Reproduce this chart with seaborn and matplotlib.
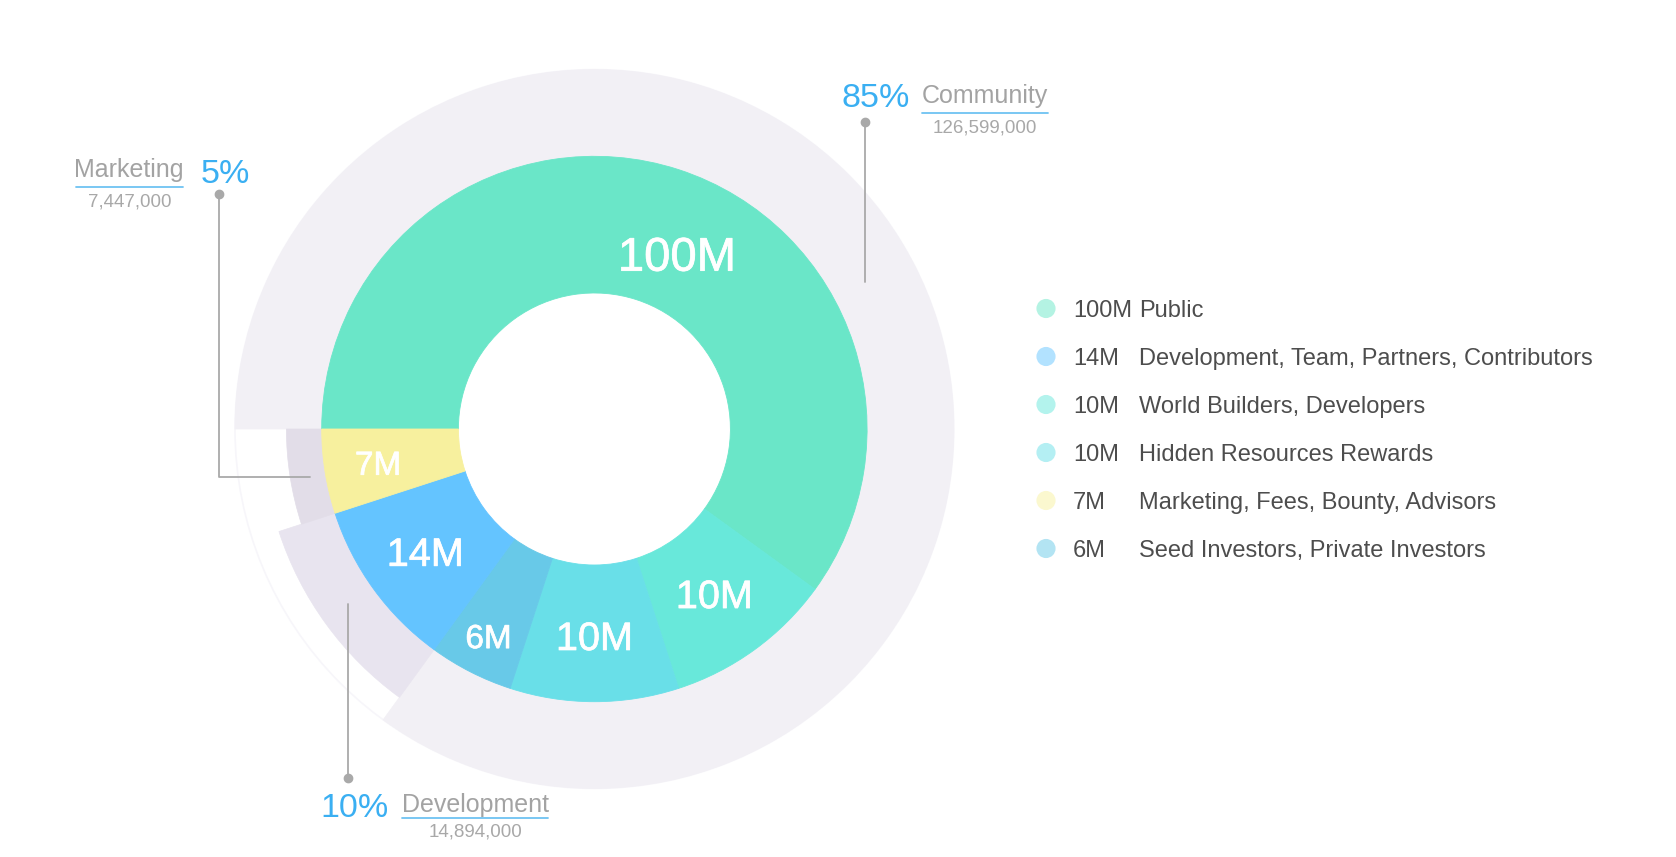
import numpy as np
import pandas as pd
import matplotlib
matplotlib.use("Agg")
import matplotlib.pyplot as plt
import matplotlib.colors as mcolors
import matplotlib.patheffects as pe
from matplotlib.patches import Wedge, Circle
import seaborn as sns

# ---------------- data ----------------
slice_amounts = ["100M", "10M", "10M", "6M", "14M", "7M"]
slice_names = ["Public", "World Builders, Developers", "Hidden Resources Rewards",
               "Seed Investors, Private Investors",
               "Development, Team, Partners, Contributors",
               "Marketing, Fees, Bounty, Advisors"]
slice_share = [60, 10, 10, 5, 10, 5]          # angular share (%) as drawn
slice_colors = ["#6AE6C8", "#68E8DA", "#69DFE8", "#68C9E8", "#64C4FF", "#F7F09E"]
legend_order = [0, 4, 1, 2, 5, 3]

group_names = ["Community", "Development", "Marketing"]
group_pct = [85, 10, 5]
group_tokens = [126599000, 14894000, 7447000]
group_colors = ["#F2F0F5", "#E8E4EF", "#E2DDE8"]

# ---------------- layout ----------------
W, H = 1676, 857
def Y(y):
    return H - y

cx, cy = 594.4, Y(429)
R_hole, R_in = 136.0, 272.7
group_radius = [359.4, 331.7, 308.0]
inner_label_size = [34, 28.5, 28.5, 24, 28.5, 24]
inner_label_r = [192, 204, 207, 233, 209, 219]
label_dy = -3  # small downward nudge (px)

BLUE = "#3AAFF2"
ULINE = "#6EC3F2"
GRAY = "#A3A3A3"
NUMG = "#A8A8A8"
LINEG = "#A9A9A9"
LEGT = "#4D4D4D"

sns.set_theme(style="white")
plt.rcParams["font.family"] = ["Liberation Sans", "DejaVu Sans"]

fig = plt.figure(figsize=(W / 100, H / 100), dpi=100)
ax = fig.add_axes([0, 0, 1, 1])

# faint outer guide circle
ax.add_patch(Circle((cx, cy), group_radius[0], fill=False, ec="#F7F6FA", lw=1.2, zorder=0))

# outer ring (clockwise from 9 o'clock)
start = 180.0
for name, pct, r, col in zip(group_names, group_pct, group_radius, group_colors):
    end = start - 3.6 * pct
    ax.add_patch(Wedge((cx, cy), r, end, start, width=r - R_in, fc=col, ec=col, lw=0.5, zorder=1))
    start = end

# inner donut
wedges, _ = ax.pie(slice_share, colors=slice_colors, startangle=180, counterclock=False,
                   radius=R_in, center=(cx, cy), frame=True,
                   wedgeprops=dict(width=R_in - R_hole, linewidth=0.6))
for w, c in zip(wedges, slice_colors):
    w.set_edgecolor(c)
    w.set_zorder(2)

# inner labels
cum = 0
for i, (amt, sh) in enumerate(zip(slice_amounts, slice_share)):
    mid = 180 - 3.6 * (cum + sh / 2)
    cum += sh
    if i == 0:
        mid = 64.5
    a = np.deg2rad(mid)
    r_lab = inner_label_r[i]
    ax.text(cx + r_lab * np.cos(a), cy + r_lab * np.sin(a) + label_dy, amt, color="white",
            fontsize=inner_label_size[i], ha="center", va="center", zorder=5,
            path_effects=[pe.withStroke(linewidth=0.5, foreground="white")])

def fmt(n):
    return f"{n:,}"

# Community (dot above)
lx = 865.3
ax.plot([lx, lx], [Y(282), Y(122.3)], color=LINEG, lw=1.3, zorder=6)
ax.plot(lx, Y(122.3), "o", color=LINEG, ms=6, zorder=6)
ax.text(841.7, Y(106.7), f"{group_pct[0]}%", color=BLUE, fontsize=24.5, ha="left", va="baseline")
ax.text(921.7, Y(103.3), group_names[0], color=GRAY, fontsize=18, ha="left", va="baseline")
ax.plot([921.7, 1047.7], [Y(112.7), Y(112.7)], color=ULINE, lw=1.3)
ax.text(985, Y(132.7), fmt(group_tokens[0]), color=NUMG, fontsize=13.5, ha="center", va="baseline")

# Development (dot below)
lx = 348.0
ax.plot([lx, lx], [Y(604), Y(778.3)], color=LINEG, lw=1.3, zorder=6)
ax.plot(lx, Y(778.3), "o", color=LINEG, ms=6, zorder=6)
ax.text(320.7, Y(817.3), f"{group_pct[1]}%", color=BLUE, fontsize=24.5, ha="left", va="baseline")
ax.text(401.7, Y(811.7), group_names[1], color=GRAY, fontsize=18, ha="left", va="baseline")
ax.plot([401.7, 548], [Y(818.3), Y(818.3)], color=ULINE, lw=1.3)
ax.text(475, Y(836.7), fmt(group_tokens[1]), color=NUMG, fontsize=13.5, ha="center", va="baseline")

# Marketing (elbow to upper-left)
ax.plot([310, 219.3, 219.3], [Y(477), Y(477), Y(194)], color=LINEG, lw=1.3, zorder=6)
ax.plot(219.3, Y(194), "o", color=LINEG, ms=6, zorder=6)
ax.text(200.7, Y(182.7), f"{group_pct[2]}%", color=BLUE, fontsize=24.5, ha="left", va="baseline")
ax.text(183.3, Y(176.7), group_names[2], color=GRAY, fontsize=18, ha="right", va="baseline")
ax.plot([76, 183.3], [Y(187.3), Y(187.3)], color=ULINE, lw=1.3)
ax.text(130, Y(206.7), fmt(group_tokens[2]), color=NUMG, fontsize=13.5, ha="center", va="baseline")

# legend
def lighten(c, f=0.5):
    r, g, b = mcolors.to_rgb(c)
    return (r + (1 - r) * f, g + (1 - g) * f, b + (1 - b) * f)

leg_y = [308.5 + 48 * k for k in range(len(legend_order))]
leg_df = pd.DataFrame({
    "x": [1046.0] * len(legend_order),
    "y": [Y(v) for v in leg_y],
    "key": [f"k{i}" for i in legend_order],
})
pal = {f"k{i}": lighten(slice_colors[i]) for i in legend_order}
sns.scatterplot(data=leg_df, x="x", y="y", hue="key", palette=pal, s=190,
                linewidth=0, legend=False, ax=ax, zorder=6)
for k, i in enumerate(legend_order):
    yb = Y(leg_y[k] + 8.5)
    ax.text(1073, yb, slice_amounts[i], color=LEGT, fontsize=17, ha="left", va="baseline")
    ax.text(1139, yb, slice_names[i], color=LEGT, fontsize=17, ha="left", va="baseline")

ax.set_xlim(0, W)
ax.set_ylim(0, H)
ax.set_aspect("equal", adjustable="box")
ax.axis("off")
fig.savefig("out.png", dpi=100, facecolor="white")
